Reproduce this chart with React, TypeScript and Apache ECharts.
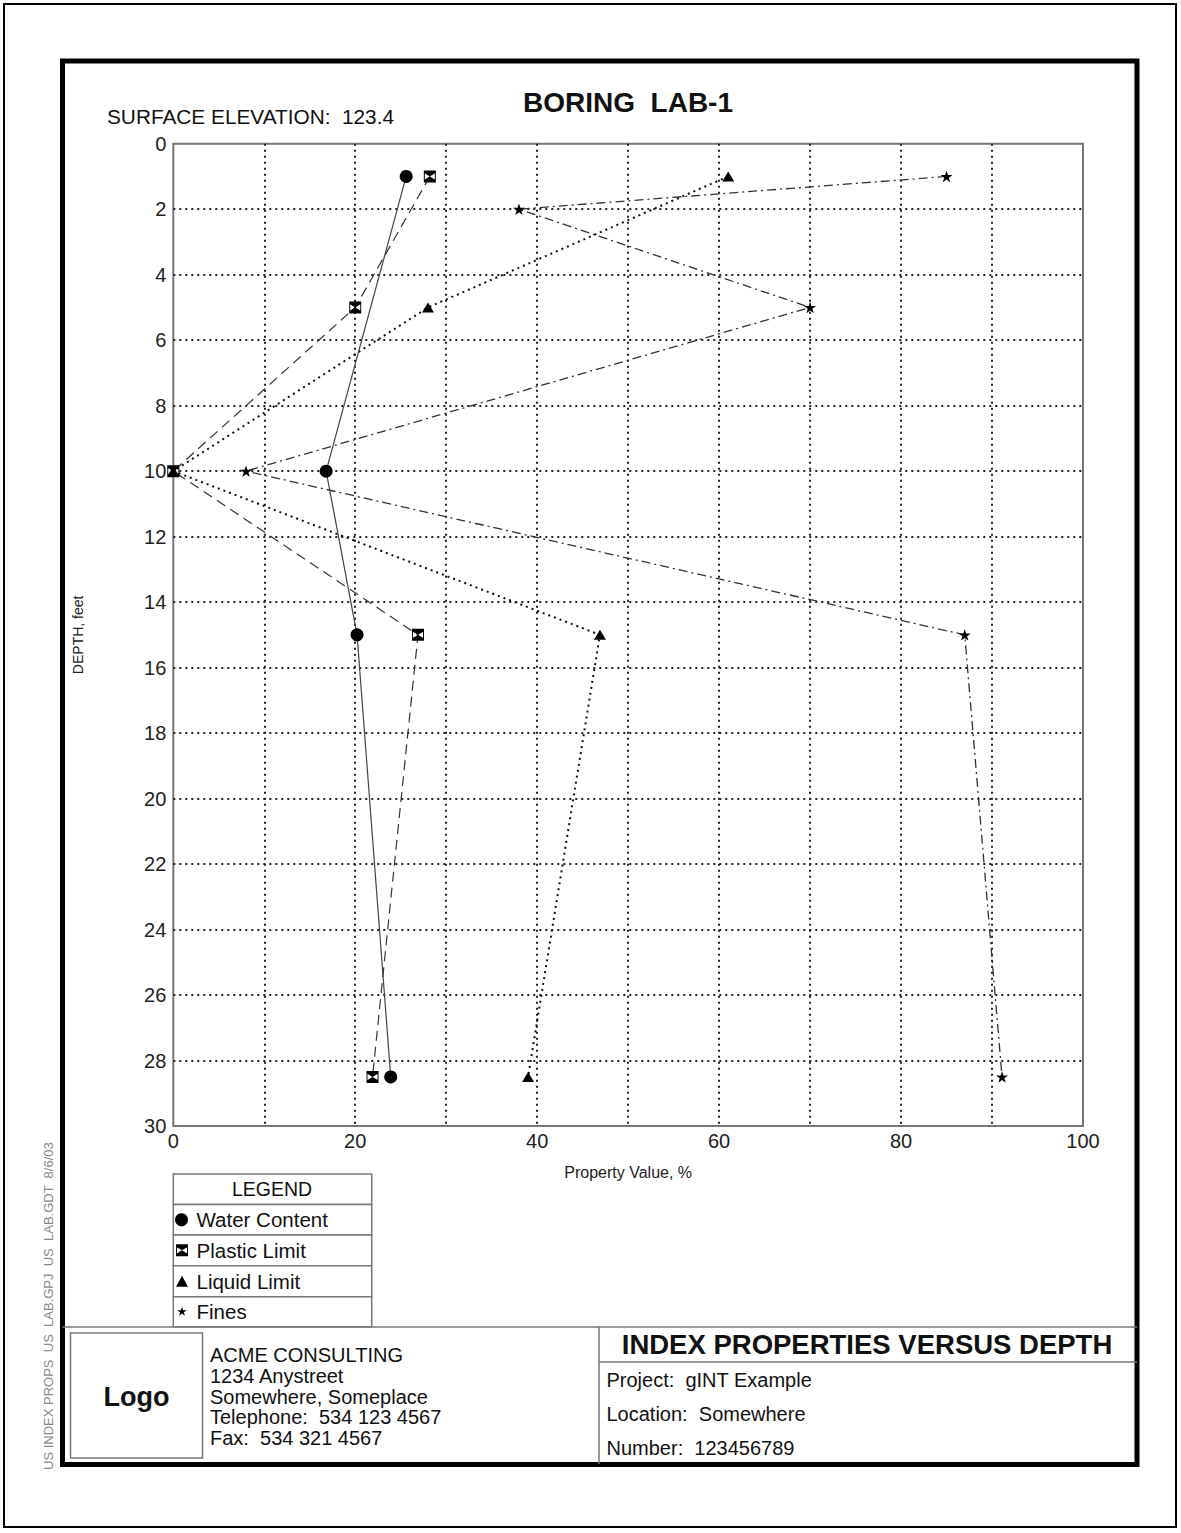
import React, { useEffect, useRef } from "react";
import * as echarts from "echarts";

const FONT = '"Liberation Sans", Arial, Helvetica, sans-serif';

// ---- data ----
const depthTicks = [0, 2, 4, 6, 8, 10, 12, 14, 16, 18, 20, 22, 24, 26, 28, 30];
const xTickLabels = [0, 20, 40, 60, 80, 100];

// [property value %, depth ft]
const waterContent: [number, number][] = [[25.6, 1], [16.8, 10], [20.2, 15], [23.9, 28.5]];
const plasticLimit: [number, number][] = [[28.2, 1], [20, 5], [0, 10], [26.9, 15], [21.9, 28.5]];
const liquidLimit: [number, number][] = [[61, 1], [28, 5], [0, 10], [46.9, 15], [39, 28.5]];
const fines: [number, number][] = [[85, 1], [38, 2], [70, 5], [8, 10], [87, 15], [91.1, 28.5]];

const legendItems = ["Water Content", "Plastic Limit", "Liquid Limit", "Fines"];
const companyLines = [
  "ACME CONSULTING",
  "1234 Anystreet",
  "Somewhere, Someplace",
  "Telephone:  534 123 4567",
  "Fax:  534 321 4567",
];
const projectLines = ["Project:  gINT Example", "Location:  Somewhere", "Number:  123456789"];

// ---- symbols ----
const HOURGLASS_D =
  "M0 0L10 0L10 2L5 5L0 2Z M0 10L0 8L5 5L10 8L10 10Z M0 0L0.8 0L0.8 10L0 10Z M9.2 0L10 0L10 10L9.2 10Z";
const STAR_D =
  "M50 0L61.2 34.5L97.6 34.5L68.2 55.9L79.4 90.5L50 69.1L20.6 90.5L31.8 55.9L2.4 34.5L38.8 34.5Z";

echarts.graphic.registerShape("hourglass", echarts.graphic.extendPath(HOURGLASS_D, {}));
echarts.graphic.registerShape("star5", echarts.graphic.extendPath(STAR_D, {}));

function buildOption() {
  const txt = (text: string, x: number, y: number, size: number, extra: any = {}) => ({
    type: "text",
    x,
    y,
    silent: true,
    style: {
      text,
      fontSize: size,
      fontFamily: FONT,
      fill: "#111",
      textAlign: "left",
      textVerticalAlign: "middle",
      ...extra,
    },
  });

  const graphics: any[] = [];
  // page borders
  graphics.push({
    type: "rect",
    shape: { x: 4, y: 4, width: 1172, height: 1523 },
    style: { fill: "none", stroke: "#000", lineWidth: 2 },
    silent: true,
  });
  graphics.push({
    type: "rect",
    shape: { x: 62.5, y: 61, width: 1074.5, height: 1403.5 },
    style: { fill: "none", stroke: "#000", lineWidth: 5 },
    silent: true,
  });
  // titles
  graphics.push(txt("BORING  LAB-1", 628, 102.5, 28, { fontWeight: "bold", textAlign: "center" }));
  graphics.push(txt("SURFACE ELEVATION:  123.4", 107, 116.5, 20.8));

  // legend table
  const rows = [1174, 1204.5, 1235, 1265.7, 1296.7, 1326.7];
  for (let i = 0; i < rows.length - 1; i++) {
    graphics.push({
      type: "rect",
      shape: { x: 173.3, y: rows[i], width: 198.4, height: rows[i + 1] - rows[i] },
      style: { fill: "#fff", stroke: "#777", lineWidth: 1.5 },
      silent: true,
    });
  }
  graphics.push(txt("LEGEND", 272, (rows[0] + rows[1]) / 2, 19.5, { textAlign: "center" }));
  legendItems.forEach((name, i) => {
    const cy = (rows[i + 1] + rows[i + 2]) / 2;
    graphics.push(txt(name, 196.5, cy, 20.5));
  });
  const c1 = (rows[1] + rows[2]) / 2;
  const c2 = (rows[2] + rows[3]) / 2;
  const c3 = (rows[3] + rows[4]) / 2;
  const c4 = (rows[4] + rows[5]) / 2;
  graphics.push({ type: "circle", shape: { cx: 181.5, cy: c1, r: 6.5 }, style: { fill: "#000" }, silent: true });
  graphics.push({ type: "hourglass", x: 176, y: c2 - 6, scaleX: 1.2, scaleY: 1.2, style: { fill: "#000" }, silent: true });
  graphics.push({
    type: "polygon",
    shape: { points: [[176, c3 + 5.5], [188, c3 + 5.5], [182, c3 - 5.5]] },
    style: { fill: "#000" },
    silent: true,
  });
  graphics.push({ type: "star5", x: 177, y: c4 - 5, scaleX: 0.1, scaleY: 0.1, style: { fill: "#000" }, silent: true });

  // title block
  graphics.push({ type: "line", shape: { x1: 62.5, y1: 1327, x2: 1137, y2: 1327 }, style: { stroke: "#777", lineWidth: 1.5 }, silent: true });
  graphics.push({ type: "line", shape: { x1: 599, y1: 1327, x2: 599, y2: 1464 }, style: { stroke: "#777", lineWidth: 1.5 }, silent: true });
  graphics.push({ type: "line", shape: { x1: 599, y1: 1362, x2: 1137, y2: 1362 }, style: { stroke: "#777", lineWidth: 1.5 }, silent: true });
  graphics.push({
    type: "rect",
    shape: { x: 70.5, y: 1333, width: 132, height: 125 },
    style: { fill: "none", stroke: "#777", lineWidth: 1.5 },
    silent: true,
  });
  graphics.push(txt("Logo", 136.5, 1397, 27, { fontWeight: "bold", textAlign: "center" }));
  companyLines.forEach((l, i) => graphics.push(txt(l, 210, 1355 + i * 20.8, 20)));
  graphics.push(txt("INDEX PROPERTIES VERSUS DEPTH", 867, 1344, 27.5, { fontWeight: "bold", textAlign: "center" }));
  projectLines.forEach((l, i) => graphics.push(txt(l, 606.5, 1380 + i * 34, 20)));

  // side stamp
  graphics.push({
    type: "text",
    x: 48,
    y: 1470,
    rotation: Math.PI / 2,
    silent: true,
    style: {
      text: "US INDEX PROPS  US  LAB.GPJ  US  LAB.GDT  8/6/03",
      fontSize: 13,
      fontFamily: FONT,
      fill: "#888",
      textAlign: "left",
      textVerticalAlign: "middle",
    },
  });

  const lineSeries = (name: string, data: [number, number][], symbol: string, size: any, ls: any, z: number) => ({
    name,
    type: "line",
    data,
    symbol,
    symbolSize: size,
    showAllSymbol: true,
    clip: false,
    z,
    silent: true,
    lineStyle: ls,
    itemStyle: { color: "#000" },
    emphasis: { disabled: true },
  });

  return {
    animation: false,
    backgroundColor: "#fff",
    textStyle: { fontFamily: FONT },
    grid: {
      left: 173.3,
      top: 143.7,
      width: 909.7,
      height: 982.3,
      show: true,
      borderColor: "#777",
      borderWidth: 2,
      backgroundColor: "transparent",
      containLabel: false,
    },
    xAxis: {
      type: "value",
      min: 0,
      max: 100,
      interval: 10,
      position: "bottom",
      axisLine: { show: false },
      axisTick: { show: false },
      axisLabel: {
        fontSize: 20,
        fontFamily: FONT,
        color: "#222",
        margin: 5,
        showMinLabel: true,
        showMaxLabel: true,
        formatter: (v: number) => (xTickLabels.includes(v) ? String(v) : ""),
      },
      splitLine: {
        show: true,
        showMinLine: false,
        showMaxLine: false,
        lineStyle: { color: "#222", width: 2, type: [2, 4] },
      },
      name: "Property Value, %",
      nameLocation: "middle",
      nameGap: 38,
      nameTextStyle: { fontSize: 16, fontFamily: FONT, color: "#222" },
    },
    yAxis: {
      type: "value",
      inverse: true,
      min: 0,
      max: 30,
      interval: 2,
      axisLine: { show: false },
      axisTick: { show: false },
      axisLabel: {
        fontSize: 20,
        fontFamily: FONT,
        color: "#222",
        margin: 7,
        showMinLabel: true,
        showMaxLabel: true,
        formatter: (v: number) => (depthTicks.includes(v) ? String(v) : ""),
      },
      splitLine: {
        show: true,
        showMinLine: false,
        showMaxLine: false,
        lineStyle: { color: "#222", width: 2, type: [2, 4] },
      },
      name: "DEPTH, feet",
      nameLocation: "middle",
      nameGap: 88,
      nameRotate: 90,
      nameTextStyle: { fontSize: 14, fontFamily: FONT, color: "#222" },
    },
    series: [
      lineSeries("Fines", fines, "path://" + STAR_D, [12, 11.5], { color: "#333", width: 1.3, type: [9, 4, 2, 4] }, 3),
      lineSeries("Liquid Limit", liquidLimit, "triangle", [12, 10], { color: "#111", width: 2, type: [2, 4] }, 4),
      lineSeries("Plastic Limit", plasticLimit, "path://" + HOURGLASS_D, 12, { color: "#333", width: 1.2, type: [10, 6] }, 5),
      lineSeries("Water Content", waterContent, "circle", 13, { color: "#444", width: 1.2, type: "solid" }, 6),
    ],
    graphic: graphics,
  };
}

export default function App() {
  const ref = useRef<HTMLDivElement>(null);
  useEffect(() => {
    document.body.style.margin = "0";
    const chart = echarts.init(ref.current!, null, { renderer: "svg" });
    chart.setOption(buildOption() as any);
    return () => chart.dispose();
  }, []);
  return <div ref={ref} style={{ width: 1181, height: 1533, background: "#fff" }} />;
}
